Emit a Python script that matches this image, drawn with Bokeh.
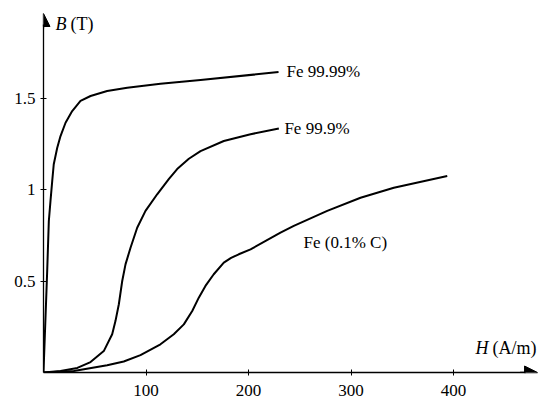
from bokeh.plotting import figure
from bokeh.models import Range1d, FixedTicker, NumeralTickFormatter, Label, Arrow, NormalHead, LinearAxis
from bokeh.embed import file_html
from bokeh.resources import INLINE

# ---- data ----
h_9999 = [0, 3.6, 5.2, 6.8, 8.5, 10.0, 13.4, 16.6, 21.5, 28.0, 36.1, 45.9, 62.1, 81.7, 114.1, 153.2, 229.3]
b_9999 = [0, 0.555, 0.828, 0.937, 1.046, 1.138, 1.228, 1.292, 1.365, 1.429, 1.484, 1.511, 1.538, 1.556, 1.578, 1.598, 1.642]

h_999 = [0, 16.6, 33.0, 45.9, 58.8, 67.0, 70.2, 73.5, 76.8, 80.0, 84.9, 91.4, 99.5, 110.9, 122.2, 130.4, 141.8, 153.2, 175.9, 202.0, 229.6]
b_999 = [0, 0.008, 0.025, 0.057, 0.117, 0.209, 0.281, 0.373, 0.500, 0.591, 0.682, 0.791, 0.883, 0.974, 1.057, 1.112, 1.168, 1.210, 1.265, 1.302, 1.334]

h_c = [0, 29.6, 62.1, 78.3, 94.6, 114.1, 127.1, 136.9, 145.1, 151.5, 158.0, 166.1, 175.9, 183.0, 190.5, 202.0, 231.2, 244.2, 276.8, 309.3, 341.8, 393.9]
b_c = [0, 0.008, 0.040, 0.060, 0.095, 0.154, 0.209, 0.263, 0.336, 0.409, 0.473, 0.537, 0.600, 0.626, 0.646, 0.673, 0.764, 0.801, 0.883, 0.955, 1.010, 1.074]

x_ticks = [100, 200, 300, 400]
y_ticks = [0.5, 1, 1.5]
series_names = ["Fe 99.99%", "Fe 99.9%", "Fe (0.1% C)"]

FONT = "Liberation Serif"

p = figure(width=539, height=400, output_backend="svg", toolbar_location=None,
           x_range=Range1d(0, 483.9), y_range=Range1d(0, 2.033),
           min_border_left=43, min_border_right=0, min_border_top=0, min_border_bottom=28,
           x_axis_type=None, y_axis_type=None)
p.outline_line_color = None
p.grid.visible = False

xa = LinearAxis(ticker=FixedTicker(ticks=x_ticks), bounds=(0, 470))
ya = LinearAxis(ticker=FixedTicker(ticks=y_ticks), bounds=(0, 1.90),
                formatter=NumeralTickFormatter(format="0.[0]"))
for ax in (xa, ya):
    ax.axis_line_color = "black"
    ax.axis_line_width = 1.3
    ax.major_tick_line_color = "black"
    ax.major_tick_in = 3
    ax.major_tick_out = 3
    ax.minor_tick_line_color = None
    ax.major_label_text_font = FONT
    ax.major_label_text_font_size = "17px"
    ax.major_label_text_color = "black"
xa.major_label_standoff = 9
ya.major_label_standoff = 5
p.add_layout(xa, "below")
p.add_layout(ya, "left")

# arrow heads on the axes
p.add_layout(Arrow(x_start=0, y_start=1.88, x_end=0, y_end=1.962,
                   line_color="black", line_width=1.3,
                   end=NormalHead(size=13, fill_color="black", line_color="black")))
p.add_layout(Arrow(x_start=465, y_start=0, x_end=482, y_end=0,
                   line_color="black", line_width=1.3,
                   end=NormalHead(size=13, fill_color="black", line_color="black")))

for hx, by in ((h_9999, b_9999), (h_999, b_999), (h_c, b_c)):
    p.line(hx, by, line_color="black", line_width=2, line_join="round")

# curve labels
for (lx, ly), txt in zip(((237, 1.647), (235, 1.336), (253.7, 0.713)), series_names):
    p.add_layout(Label(x=lx, y=ly, text=txt, text_font=FONT, text_font_size="17px",
                       text_baseline="middle", text_align="left", text_color="black"))

# axis titles
p.add_layout(Label(x=11.7, y=1.904, text="B", text_font=FONT, text_font_style="italic",
                   text_font_size="18px", text_baseline="middle", text_color="black"))
p.add_layout(Label(x=26.3, y=1.904, text="(T)", text_font=FONT,
                   text_font_size="18px", text_baseline="middle", text_color="black"))
p.add_layout(Label(x=421.5, y=0.134, text="H", text_font=FONT, text_font_style="italic",
                   text_font_size="18px", text_baseline="middle", text_color="black"))
p.add_layout(Label(x=438, y=0.134, text="(A/m)", text_font=FONT,
                   text_font_size="18px", text_baseline="middle", text_color="black"))

open("out.html", "w").write(file_html(p, INLINE))
